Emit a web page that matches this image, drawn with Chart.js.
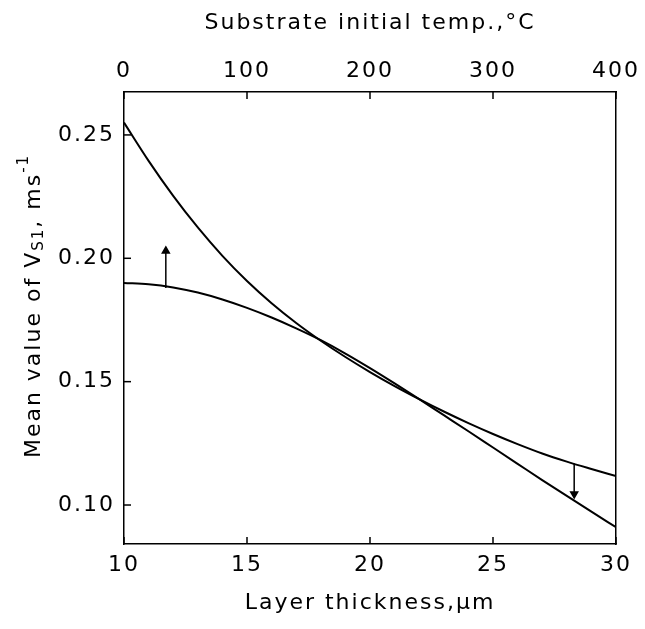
<!DOCTYPE html>
<html>
<head>
<meta charset="utf-8">
<script src="https://cdn.jsdelivr.net/npm/chart.js@4.4.1/dist/chart.umd.min.js"></script>
<style>
  body { margin: 0; background: #fff; }
  #wrap { width: 645px; height: 629px; }
</style>
</head>
<body>
<div id="wrap"><canvas id="chart"></canvas></div>
<script>
// layer thickness curve (bottom axis)
const thickness = [10, 11, 12, 13, 14, 15, 16, 17, 18, 19, 20, 21, 22, 23, 24, 25, 26, 27, 28, 29, 30];
const vsThickness = [0.255, 0.2395, 0.2253, 0.2125, 0.2010, 0.1908, 0.1818, 0.1738, 0.1666, 0.1600, 0.1539,
                     0.1482, 0.1429, 0.1379, 0.1332, 0.1288, 0.1247, 0.1209, 0.1176, 0.1146, 0.1117];

// substrate temperature curve (top axis)
const temps = [0, 20, 40, 60, 80, 100, 120, 140, 160, 180, 200, 220, 240, 260, 280, 300, 320, 340, 360, 380, 400];
const vsTemp = [0.190, 0.1895, 0.1882, 0.1861, 0.1833, 0.1799, 0.1760, 0.1716, 0.1668, 0.1614, 0.1555,
                0.1493, 0.1429, 0.1364, 0.1299, 0.1233, 0.1167, 0.1101, 0.1037, 0.0973, 0.0910];

// arrows telling which axis each curve belongs to
const arrowUpX = [34, 34];
const arrowUpY = [0.188, 0.203];
const arrowDownX = [28.3, 28.3];
const arrowDownY = [0.1168, 0.1045];

const thicknessTicks = [10, 15, 20, 25, 30];
const tempTicks = [0, 100, 200, 300, 400];
const vTicks = [0.10, 0.15, 0.20, 0.25];

const FONT = "'DejaVu Sans', sans-serif";

function pts(xs, ys) {
    return xs.map((x, i) => ({ x: x, y: ys[i] }));
}

// wider letter spacing like the stencil lettering
const spacing = {
    id: 'spacing',
    beforeDraw(chart) { chart.ctx.letterSpacing = '2px'; }
};

// small ticks pointing into the plot
const innerTicks = {
    id: 'innerTicks',
    afterDraw(chart) {
        const ctx = chart.ctx;
        const len = 7;
        ctx.save();
        ctx.strokeStyle = '#000';
        ctx.lineWidth = 1.5;
        ['x', 'x2', 'y'].forEach(id => {
            const s = chart.scales[id];
            s.ticks.forEach(t => {
                const p = s.getPixelForValue(t.value);
                ctx.beginPath();
                if (id === 'x') { ctx.moveTo(p, s.top); ctx.lineTo(p, s.top - len); }
                if (id === 'x2') { ctx.moveTo(p, s.bottom); ctx.lineTo(p, s.bottom + len); }
                if (id === 'y') { ctx.moveTo(s.right, p); ctx.lineTo(s.right + len, p); }
                ctx.stroke();
            });
        });
        ctx.restore();
    }
};

// y title with subscript and superscript
const yTitle = {
    id: 'yTitle',
    afterDraw(chart) {
        const ctx = chart.ctx;
        const area = chart.chartArea;
        const big = '22px ' + FONT;
        const small = '15px ' + FONT;
        const parts = [
            { t: 'Mean value of V', f: big, dy: 0 },
            { t: 'S1', f: small, dy: 5 },
            { t: ', ms', f: big, dy: 0 },
            { t: '-1', f: small, dy: -10 }
        ];
        ctx.save();
        ctx.letterSpacing = '2px';
        let w = 0;
        parts.forEach(p => { ctx.font = p.f; p.w = ctx.measureText(p.t).width; w += p.w; });
        ctx.translate(34, (area.top + area.bottom) / 2 - 12);
        ctx.rotate(-Math.PI / 2);
        ctx.fillStyle = '#000';
        ctx.textBaseline = 'middle';
        let x = -w / 2;
        parts.forEach(p => {
            ctx.font = p.f;
            ctx.fillText(p.t, x, p.dy);
            x += p.w;
        });
        ctx.restore();
    }
};

const line = { borderColor: '#000', borderWidth: 2, pointRadius: 0, fill: false };

new Chart(document.getElementById('chart'), {
    type: 'line',
    data: {
        datasets: [
            Object.assign({ data: pts(thickness, vsThickness), xAxisID: 'x', yAxisID: 'y', cubicInterpolationMode: 'monotone' }, line),
            Object.assign({ data: pts(temps, vsTemp), xAxisID: 'x2', yAxisID: 'y', cubicInterpolationMode: 'monotone' }, line),
            Object.assign({}, line, {
                data: pts(arrowUpX, arrowUpY), xAxisID: 'x2', yAxisID: 'y', borderWidth: 1.5,
                pointStyle: 'triangle', pointRadius: [0, 4], pointBackgroundColor: '#000', pointRotation: 0
            }),
            Object.assign({}, line, {
                data: pts(arrowDownX, arrowDownY), xAxisID: 'x', yAxisID: 'y', borderWidth: 1.5,
                pointStyle: 'triangle', pointRadius: [0, 4], pointBackgroundColor: '#000', pointRotation: 180
            })
        ]
    },
    options: {
        responsive: true,
        maintainAspectRatio: false,
        animation: false,
        layout: { padding: 0 },
        plugins: { legend: { display: false }, tooltip: { enabled: false } },
        scales: {
            x: {
                type: 'linear', position: 'bottom', min: 10, max: 30,
                afterFit: s => { s.height = 85; },
                afterBuildTicks: s => { s.ticks = thicknessTicks.map(v => ({ value: v })); },
                grid: { display: false, drawTicks: false },
                border: { display: true, color: '#000', width: 1.5 },
                ticks: { color: '#000', font: { family: FONT, size: 22 }, padding: 8, maxRotation: 0 },
                title: { display: true, text: 'Layer thickness,µm', color: '#000', font: { family: FONT, size: 22 }, padding: { top: 4, bottom: 13 } }
            },
            x2: {
                type: 'linear', position: 'top', min: 0, max: 400,
                afterFit: s => { s.height = 92; },
                afterBuildTicks: s => { s.ticks = tempTicks.map(v => ({ value: v })); },
                grid: { display: false, drawTicks: false },
                border: { display: true, color: '#000', width: 1.5 },
                ticks: { color: '#000', font: { family: FONT, size: 22 }, padding: 8, maxRotation: 0 },
                title: { display: true, text: 'Substrate initial temp.,°C', color: '#000', font: { family: FONT, size: 22 }, padding: { top: 10, bottom: 0 } }
            },
            y: {
                type: 'linear', position: 'left', min: 0.0842, max: 0.2674,
                afterFit: s => { s.width = 124; },
                afterBuildTicks: s => { s.ticks = vTicks.map(v => ({ value: v })); },
                grid: { display: false, drawTicks: false },
                border: { display: true, color: '#000', width: 1.5 },
                ticks: { color: '#000', font: { family: FONT, size: 22 }, padding: 9, callback: v => v.toFixed(2) }
            },
            y2: {
                type: 'linear', position: 'right', min: 0.0842, max: 0.2674,
                afterFit: s => { s.width = 25; },
                grid: { display: false, drawTicks: false },
                border: { display: true, color: '#000', width: 1.5 },
                ticks: { display: false }
            }
        }
    },
    plugins: [spacing, innerTicks, yTitle]
});
</script>
</body>
</html>
